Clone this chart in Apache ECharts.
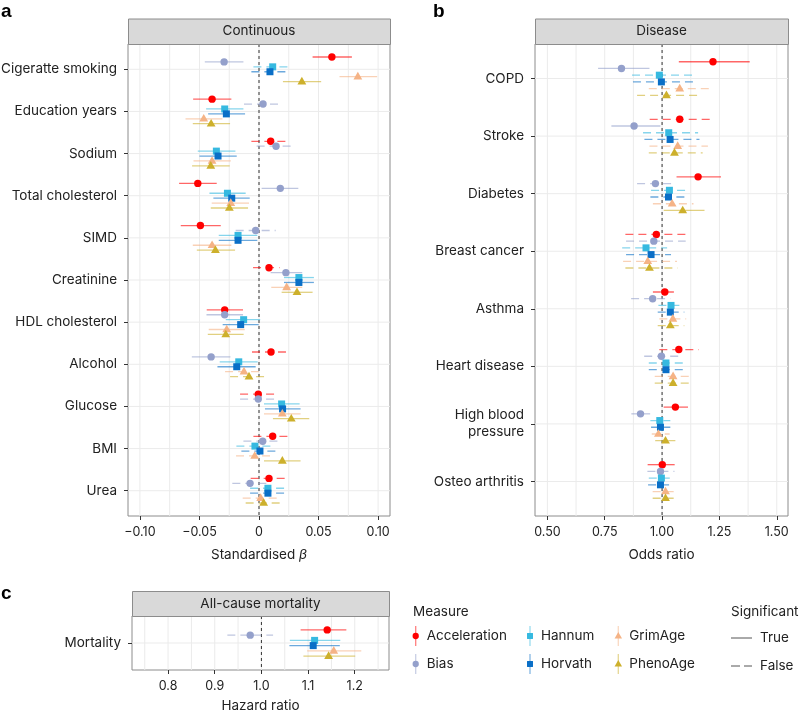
<!DOCTYPE html>
<html><head><meta charset="utf-8">
<script src="https://cdn.jsdelivr.net/npm/echarts@6/dist/echarts.min.js"></script>
<style>html,body{margin:0;padding:0;background:#fff}#c{width:799px;height:712px}</style>
</head><body><div id="c"></div>
<script>
// ---------- data ----------
const measures = ['Acceleration','Bias','Hannum','Horvath','GrimAge','PhenoAge'];
const measureColors = ['#FF0000','#94A0CB','#36B9E0','#0A6FC7','#F5B386','#CDB02C'];
const measureShapes = ['circle','circle','square','square','triangle','triangle'];

// Panel a: continuous traits, each row [estimate, lower, upper, significant]
const contCategories = ['Cigeratte smoking','Education years','Sodium','Total cholesterol','SIMD','Creatinine','HDL cholesterol','Alcohol','Glucose','BMI','Urea'];
const contTicks = [-0.1,-0.05,0,0.05,0.1];
const contTickLabels = ['\u22120.10','\u22120.05','0','0.05','0.10'];
const contAcceleration = [[0.0612,0.045,0.078,1],[-0.0394,-0.0553,-0.0232,1],[0.0098,-0.0064,0.026,0],[-0.0514,-0.0671,-0.0355,1],[-0.0492,-0.0657,-0.0321,1],[0.0084,-0.005,0.0173,0],[-0.0288,-0.0439,-0.0134,1],[0.0101,-0.0059,0.026,0],[-0.0006,-0.0159,0.0154,0],[0.0115,-0.0047,0.0277,0],[0.0084,-0.007,0.0237,0]];
const contBias = [[-0.0293,-0.0455,-0.0131,1],[0.0034,-0.0126,0.0196,0],[0.0143,-0.002,0.0305,0],[0.0179,0.0022,0.033,1],[-0.0028,-0.0196,0.014,0],[0.0226,0.0098,0.0363,1],[-0.0288,-0.0441,-0.0134,1],[-0.0402,-0.0564,-0.024,1],[-0.0006,-0.0159,0.0154,0],[0.0031,-0.0131,0.019,0],[-0.0075,-0.0224,0.007,0]];
const contHannum = [[0.0115,-0.0047,0.0271,0],[-0.0288,-0.0444,-0.0131,1],[-0.0358,-0.0514,-0.0198,1],[-0.0265,-0.0416,-0.0112,1],[-0.0176,-0.0338,-0.0014,1],[0.0335,0.021,0.0461,1],[-0.0129,-0.0279,0.001,1],[-0.017,-0.033,-0.0011,1],[0.019,0.0042,0.0341,1],[-0.0034,-0.019,0.0126,0],[0.0075,-0.0075,0.0229,0]];
const contHorvath = [[0.0092,-0.0064,0.0254,0],[-0.0274,-0.0427,-0.0117,1],[-0.0344,-0.05,-0.0187,1],[-0.0229,-0.0383,-0.0078,1],[-0.0176,-0.0338,-0.0014,1],[0.0335,0.021,0.0461,1],[-0.0154,-0.0305,-0.0003,1],[-0.0187,-0.0349,-0.0028,1],[0.0198,0.005,0.0349,1],[0.0008,-0.0148,0.0165,0],[0.0075,-0.0075,0.0229,0]];
const contGrimAge = [[0.083,0.0676,0.0992,1],[-0.0464,-0.0617,-0.0307,1],[-0.0394,-0.055,-0.0237,1],[-0.0237,-0.0397,-0.0084,1],[-0.0394,-0.0556,-0.0232,1],[0.0232,0.0103,0.0363,1],[-0.0271,-0.0422,-0.012,1],[-0.0126,-0.0285,0.0034,0],[0.0196,0.0042,0.0349,1],[-0.0036,-0.0193,0.012,0],[0.0014,-0.0137,0.0165,0]];
const contPhenoAge = [[0.036,0.0201,0.0522,1],[-0.0402,-0.0556,-0.0243,1],[-0.0405,-0.0562,-0.0246,1],[-0.0249,-0.0405,-0.0092,1],[-0.0366,-0.0522,-0.0201,1],[0.0319,0.019,0.045,1],[-0.0279,-0.043,-0.0129,1],[-0.0084,-0.0243,0.0075,0],[0.0271,0.0117,0.0422,1],[0.0196,0.0042,0.0349,1],[0.0039,-0.0112,0.019,0]];

// Panel b: disease, odds ratios
const disCategories = ['COPD','Stroke','Diabetes','Breast cancer','Asthma','Heart disease','High blood\npressure','Osteo arthritis'];
const disTicks = [0.5,0.75,1,1.25,1.5];
const disTickLabels = ['0.50','0.75','1.00','1.25','1.50'];
const disAcceleration = [[1.222,1.073,1.382,1],[1.077,0.946,1.215,0],[1.157,1.063,1.257,1],[0.975,0.84,1.113,0],[1.012,0.96,1.065,0],[1.073,0.988,1.16,0],[1.058,1.007,1.113,1],[1.001,0.937,1.055,1]];
const disBias = [[0.823,0.721,0.945,1],[0.878,0.779,0.993,1],[0.971,0.891,1.057,0],[0.964,0.843,1.103,0],[0.959,0.865,1.036,0],[0.997,0.922,1.073,0],[0.906,0.866,0.948,1],[0.993,0.936,1.054,0]];
const disHannum = [[0.988,0.869,1.132,0],[1.029,0.917,1.157,0],[1.032,0.952,1.12,0],[0.93,0.826,1.022,0],[1.039,0.984,1.097,0],[1.017,0.942,1.097,0],[0.99,0.949,1.036,0],[0.997,0.942,1.054,0]];
const disHorvath = [[0.997,0.873,1.141,0],[1.035,0.923,1.163,0],[1.028,0.949,1.116,0],[0.952,0.843,1.039,0],[1.036,0.981,1.097,0],[1.017,0.942,1.097,0],[0.993,0.952,1.036,0],[0.993,0.939,1.048,0]];
const disGrimAge = [[1.077,0.942,1.212,0],[1.068,0.945,1.2,0],[1.044,0.96,1.137,0],[0.9375,0.83,1.065,0],[1.047,0.988,1.105,0],[1.048,0.968,1.131,0],[0.984,0.955,1.033,0],[1.015,0.959,1.07,0]];
const disPhenoAge = [[1.019,0.891,1.16,0],[1.054,0.942,1.177,0],[1.09,1.007,1.185,1],[0.945,0.84,1.068,0],[1.036,0.981,1.097,0],[1.048,0.968,1.131,0],[1.015,0.97,1.058,0],[1.015,0.959,1.07,0]];

// Panel c: all-cause mortality, hazard ratios
const mortCategories = ['Mortality'];
const mortTicks = [0.8,0.9,1.0,1.1,1.2];
const mortTickLabels = ['0.8','0.9','1.0','1.1','1.2'];
const mortAcceleration = [[1.141,1.084,1.182,1]];
const mortBias = [[0.976,0.927,1.025,0]];
const mortHannum = [[1.114,1.061,1.169,1]];
const mortHorvath = [[1.111,1.06,1.168,1]];
const mortGrimAge = [[1.155,1.098,1.214,1]];
const mortPhenoAge = [[1.144,1.09,1.201,1]];

// ---------- layout / style ----------
const FONT = 'Inter, "Liberation Sans", Arial, sans-serif';
const TXT = '#222';
const BORDER = '#8c8c8c';
const GRIDC = '#ebebeb';
const TICKC = '#333';
const DODGE = 0.7 / 6;

const panels = [
  {cats: contCategories, data:[contAcceleration,contBias,contHannum,contHorvath,contGrimAge,contPhenoAge], ticks: contTicks, labels: contTickLabels, min:-0.11, max:0.11, minor:0.025, ref:0, strip:'Continuous', name:'Standardised {i|\u03b2}', nameGap:32, grid:{left:128, top:44, width:262, height:472}, stripTop:18.5, letter:'a', letterPos:[1,2]},
  {cats: disCategories, data:[disAcceleration,disBias,disHannum,disHorvath,disGrimAge,disPhenoAge], ticks: disTicks, labels: disTickLabels, min:0.446, max:1.549, minor:0.125, ref:1, strip:'Disease', name:'Odds ratio', nameGap:32, grid:{left:535, top:44, width:253, height:472}, stripTop:18.5, letter:'b', letterPos:[433,2]},
  {cats: mortCategories, data:[mortAcceleration,mortBias,mortHannum,mortHorvath,mortGrimAge,mortPhenoAge], ticks: mortTicks, labels: mortTickLabels, min:0.7227, max:1.2734, minor:0.05, ref:1, strip:'All-cause mortality', name:'Hazard ratio', nameGap:29, grid:{left:132, top:616, width:257, height:54}, stripTop:591, letter:'c', letterPos:[1,584]}
];

function symbolEl(shape, cx, cy, col, s) {
  s = s || 1;
  if (shape === 'circle') return {type:'circle', shape:{cx, cy, r:3.7*s}, style:{fill:col}};
  if (shape === 'square') return {type:'rect', shape:{x:cx-3.5*s, y:cy-3.5*s, width:7*s, height:7*s}, style:{fill:col}};
  return {type:'polygon', shape:{points:[[cx, cy-4.8*s],[cx+4.4*s, cy+2.8*s],[cx-4.4*s, cy+2.8*s]]}, style:{fill:col}};
}

const grids = [], xAxes = [], yAxes = [], series = [], graphics = [];

panels.forEach((p, gi) => {
  grids.push(Object.assign({show:true, borderColor:BORDER, borderWidth:1, backgroundColor:'#fff', containLabel:false, outerBoundsMode:'none'}, p.grid));
  xAxes.push({
    gridIndex: gi, type:'value', min:p.min, max:p.max, position:'bottom',
    axisLine:{show:false, onZero:false}, splitLine:{show:false},
    axisTick:{show:true, customValues:p.ticks, length:4, lineStyle:{color:TICKC, width:1}},
    axisLabel:{customValues:p.ticks, margin:10, fontSize:12.5, color:TXT, fontFamily:FONT,
      formatter: v => { const i = p.ticks.findIndex(t => Math.abs(t - v) < 1e-9); return i >= 0 ? p.labels[i] : ''; }},
    name:p.name, nameLocation:'middle', nameGap:p.nameGap,
    nameTextStyle:{fontSize:13.5, color:TXT, fontFamily:FONT, rich:{i:{fontStyle:'italic', fontSize:13.5, color:TXT, fontFamily:FONT}}}
  });
  const idx = p.cats.map((c, i) => i);
  yAxes.push({
    gridIndex: gi, type:'value', min:-0.6, max:p.cats.length - 0.4, inverse:true, position:'left',
    axisLine:{show:false, onZero:false}, splitLine:{show:false},
    axisTick:{show:true, customValues:idx, length:4, lineStyle:{color:TICKC, width:1}},
    axisLabel:{customValues:idx, margin:11, fontSize:13.5, color:TXT, fontFamily:FONT, lineHeight:17, align:'right',
      formatter: v => p.cats[Math.round(v)] || ''}
  });
  // background grid lines (vertical, every minor step)
  const vlines = [];
  for (let k = Math.ceil(p.min / p.minor - 1e-9); k * p.minor <= p.max + 1e-9; k++) vlines.push([+(k * p.minor).toFixed(6)]);
  series.push({
    type:'custom', xAxisIndex:gi, yAxisIndex:gi, z:1, silent:true, data:vlines, encode:{x:0},
    renderItem(params, api) {
      const cs = params.coordSys; const x = api.coord([api.value(0), 0])[0];
      return {type:'line', shape:{x1:x, y1:cs.y, x2:x, y2:cs.y + cs.height}, style:{stroke:GRIDC, lineWidth:1}};
    }
  });
  // horizontal grid lines at categories
  series.push({
    type:'custom', xAxisIndex:gi, yAxisIndex:gi, z:1, silent:true, data:idx.map(i => [p.min, i]), encode:{y:1},
    renderItem(params, api) {
      const cs = params.coordSys; const y = api.coord([p.min, api.value(1)])[1];
      return {type:'line', shape:{x1:cs.x, y1:y, x2:cs.x + cs.width, y2:y}, style:{stroke:GRIDC, lineWidth:1}};
    }
  });
  // reference line
  series.push({
    type:'custom', xAxisIndex:gi, yAxisIndex:gi, z:2, silent:true, data:[[p.ref]], encode:{x:0},
    renderItem(params, api) {
      const cs = params.coordSys; const x = api.coord([api.value(0), 0])[0];
      return {type:'line', shape:{x1:x, y1:cs.y, x2:x, y2:cs.y + cs.height}, style:{stroke:'#333', lineWidth:1, lineDash:[3,3]}};
    }
  });
  // point ranges
  const data = [];
  p.cats.forEach((c, ci) => {
    p.data.forEach((arr, mi) => {
      const d = arr[ci];
      data.push([d[0], d[1], d[2], ci + (mi - 2.5) * DODGE, d[3], mi]);
    });
  });
  series.push({
    type:'custom', xAxisIndex:gi, yAxisIndex:gi, z:5, silent:true, data, encode:{x:[0,1,2], y:3},
    renderItem(params, api) {
      const yv = api.value(3), mi = api.value(5), sig = api.value(4);
      const pt = api.coord([api.value(0), yv]);
      const lo = api.coord([api.value(1), yv]);
      const hi = api.coord([api.value(2), yv]);
      const col = measureColors[mi];
      return {type:'group', children:[
        {type:'line', shape:{x1:lo[0], y1:pt[1], x2:hi[0], y2:pt[1]}, style:{stroke:col, lineWidth:1.3, opacity:0.6, lineDash: sig ? null : [8,5]}},
        symbolEl(measureShapes[mi], pt[0], pt[1], col)
      ]};
    }
  });
  // strip
  const g = p.grid;
  const sh = g.top - p.stripTop;
  graphics.push({type:'rect', left:g.left, top:p.stripTop, shape:{width:g.width, height:sh}, style:{fill:'#d9d9d9', stroke:BORDER, lineWidth:1}, z:10});
  graphics.push({type:'text', x:g.left + g.width/2, y:p.stripTop + sh/2, style:{text:p.strip, fill:TXT, font:'13.5px ' + FONT, textAlign:'center', textVerticalAlign:'middle'}, z:11});
  graphics.push({type:'text', x:p.letterPos[0], y:p.letterPos[1], style:{text:p.letter, fill:'#000', font:'bold 19px "Liberation Sans", Arial, sans-serif', textAlign:'left', textVerticalAlign:'top'}, z:11});
});

// ---------- legend ----------
const legIconX = [415.7, 530, 618.3];
const legRowY = [636, 664];
graphics.push({type:'text', x:413, y:612, style:{text:'Measure', fill:TXT, font:'13.5px ' + FONT, textVerticalAlign:'middle'}});
measures.forEach((m, i) => {
  const cx = legIconX[Math.floor(i/2)], cy = legRowY[i % 2], col = measureColors[i];
  graphics.push({type:'line', shape:{x1:cx, y1:cy-10, x2:cx, y2:cy+10}, style:{stroke:col, lineWidth:1.3, opacity:0.5}});
  graphics.push(symbolEl(measureShapes[i], cx, cy, col, 0.85));
  graphics.push({type:'text', x:cx + 11, y:cy, style:{text:m, fill:TXT, font:'13.5px ' + FONT, textVerticalAlign:'middle'}});
});
graphics.push({type:'text', x:731, y:612, style:{text:'Significant', fill:TXT, font:'13.5px ' + FONT, textVerticalAlign:'middle'}});
const sigLabels = ['True','False'];
sigLabels.forEach((t, i) => {
  const cy = [638, 666][i];
  graphics.push({type:'line', shape:{x1:731, y1:cy, x2:752, y2:cy}, style:{stroke:'#555', lineWidth:1, lineDash: i ? [9,4] : null}});
  graphics.push({type:'text', x:760, y:cy, style:{text:t, fill:TXT, font:'13.5px ' + FONT, textVerticalAlign:'middle'}});
});

const chart = echarts.init(document.getElementById('c'), null, {renderer:'canvas', width:799, height:712});
chart.setOption({
  backgroundColor:'#fff', animation:false,
  grid:grids, xAxis:xAxes, yAxis:yAxes, series, graphic:graphics
});
</script></body></html>
